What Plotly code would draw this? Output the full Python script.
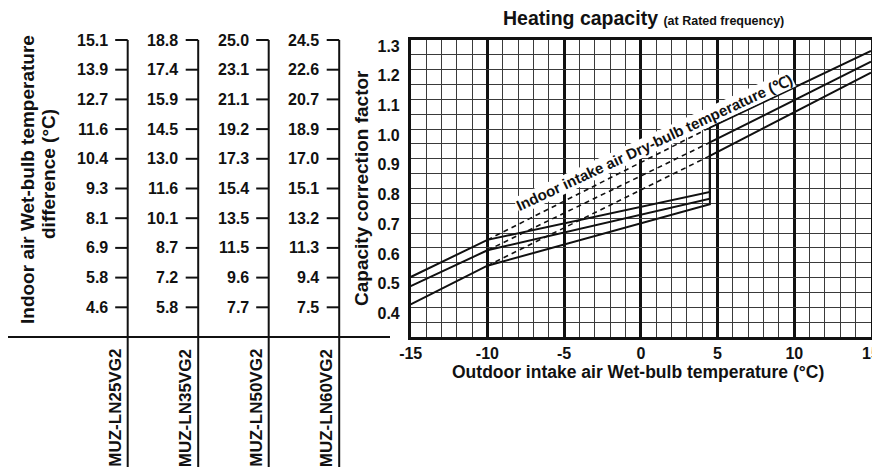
import plotly.graph_objects as go

# ---------------- data ----------------
# Heating capacity correction chart (right)
wb_outdoor = [-15, -10, 4.5, 4.5, 15]          # outdoor intake air wet-bulb (°C) knots
cf_db15 = [0.502, 0.627, 0.788, 1.005, 1.263]  # indoor dry-bulb 15 °C
cf_db20 = [0.471, 0.592, 0.766, 0.955, 1.227]  # indoor dry-bulb 20 °C
cf_db25 = [0.410, 0.540, 0.747, 0.910, 1.190]  # indoor dry-bulb 25 °C
db_labels = ["15", "20", "25"]
x_ticks = [-15, -10, -5, 0, 5, 10, 15]

# Nomogram (left): rows align with correction factor values
cf_rows = [1.3, 1.2, 1.1, 1.0, 0.9, 0.8, 0.7, 0.6, 0.5, 0.4]
models = ["MUZ-LN25VG2", "MUZ-LN35VG2", "MUZ-LN50VG2", "MUZ-LN60VG2"]
wbdiff_ln25 = [15.1, 13.9, 12.7, 11.6, 10.4, 9.3, 8.1, 6.9, 5.8, 4.6]
wbdiff_ln35 = [18.8, 17.4, 15.9, 14.5, 13.0, 11.6, 10.1, 8.7, 7.2, 5.8]
wbdiff_ln50 = [25.0, 23.1, 21.1, 19.2, 17.3, 15.4, 13.5, 11.5, 9.6, 7.7]
wbdiff_ln60 = [24.5, 22.6, 20.7, 18.9, 17.0, 15.1, 13.2, 11.3, 9.4, 7.5]

# ---------------- geometry (window pixels) ----------------
WIN_W, WIN_H = 880, 467
OFF = 8                      # default page body margin
W, H = WIN_W - OFF, WIN_H - OFF
PL, PR, PT, PB = 410.7, 871.0, 40.0, 337.0
X_RANGE = [-15, 15]
Y_RANGE = [0.3, 1.3]
COL0, COL_STEP = 127.7, 70.5


def fx(px):
    return (px - OFF) / W


def fy(py):
    return 1 - (py - OFF) / H


k = (Y_RANGE[1] - Y_RANGE[0]) / (PB - PT)
y2_range = [Y_RANGE[0] - (WIN_H - PB) * k, Y_RANGE[1] + (PT - OFF) * k]
x2_range = [-(COL0 - OFF) / COL_STEP, (WIN_W - COL0) / COL_STEP]


def y2_at(py):
    return Y_RANGE[1] + (PT - py) * k


def x2_at(px):
    return (px - COL0) / COL_STEP


FONT = "Liberation Sans, Arial, Helvetica, sans-serif"
BLACK = "#111111"
GRID = "#3a3a3a"

fig = go.Figure()

# ---------------- correction curves ----------------
for cf in (cf_db15, cf_db20, cf_db25):
    fig.add_trace(go.Scatter(x=wb_outdoor, y=cf, mode="lines",
                             line=dict(color=BLACK, width=2),
                             hoverinfo="skip", showlegend=False))
    fig.add_trace(go.Scatter(x=[wb_outdoor[1], wb_outdoor[2]], y=[cf[1], cf[3]],
                             mode="lines",
                             line=dict(color=BLACK, width=1.6, dash="5px,4px"),
                             hoverinfo="skip", showlegend=False))

annotations = []

# labels at right end of curves (cut by figure edge)
for lab, cf in zip(db_labels, (cf_db15, cf_db20, cf_db25)):
    annotations.append(dict(x=wb_outdoor[-1], y=cf[-1], xref="x", yref="y",
                            text="<b>%s</b>" % lab, showarrow=False,
                            xanchor="left", yanchor="middle", xshift=2, yshift=10,
                            borderpad=0,
                            font=dict(size=11.5, color=BLACK, family=FONT)))

# rotated label along dashed lines
annotations.append(dict(x=0.86, y=0.955, xref="x", yref="y",
                        text="<b>Indoor intake air Dry-bulb temperature (℃)</b>",
                        showarrow=False, textangle=-25, bgcolor="white", borderpad=0,
                        font=dict(size=15, color=BLACK, family=FONT)))

# ---------------- nomogram ----------------
cols = [wbdiff_ln25, wbdiff_ln35, wbdiff_ln50, wbdiff_ln60]
tick_len = 12.5 / COL_STEP
for i, (vals, model) in enumerate(zip(cols, models)):
    xs, ys = [], []
    for r in cf_rows:
        xs += [i - tick_len, i, None]
        ys += [r, r, None]
    xs += [i, i]
    ys += [cf_rows[0], y2_range[0]]
    fig.add_trace(go.Scatter(x=xs, y=ys, xaxis="x2", yaxis="y2", mode="lines",
                             line=dict(color=BLACK, width=2),
                             hoverinfo="skip", showlegend=False))
    for r, v in zip(cf_rows, vals):
        annotations.append(dict(x=i - 18 / COL_STEP, y=r, xref="x2", yref="y2",
                                text="<b>%.1f</b>" % v, showarrow=False,
                                xanchor="right", yanchor="middle",
                                font=dict(size=16, color=BLACK, family=FONT)))
    annotations.append(dict(x=i - 13 / COL_STEP, y=y2_at(347), xref="x2", yref="y2",
                            text="<b>%s</b>" % model, showarrow=False, textangle=-90,
                            xanchor="center", yanchor="top",
                            font=dict(size=17, color=BLACK, family=FONT)))

# separator line
fig.add_trace(go.Scatter(x=[x2_at(5), x2_at(390)], y=[Y_RANGE[0], Y_RANGE[0]],
                         xaxis="x2", yaxis="y2", mode="lines",
                         line=dict(color=BLACK, width=2),
                         hoverinfo="skip", showlegend=False))

# ---------------- titles ----------------
annotations.append(dict(x=fx(643.4), y=fy(18), xref="paper", yref="paper",
                        text="<b>Heating capacity</b> <b><span style='font-size:12.5px'>(at Rated frequency)</span></b>",
                        showarrow=False, xanchor="center", yanchor="middle",
                        font=dict(size=19.5, color=BLACK, family=FONT)))
annotations.append(dict(x=fx(638.4), y=fy(372), xref="paper", yref="paper",
                        text="<b>Outdoor intake air Wet-bulb temperature (°C)</b>",
                        showarrow=False, xanchor="center", yanchor="middle",
                        font=dict(size=17.5, color=BLACK, family=FONT)))
annotations.append(dict(x=fx(362), y=fy(188), xref="paper", yref="paper",
                        text="<b>Capacity correction factor</b>", textangle=-90,
                        showarrow=False, xanchor="center", yanchor="middle",
                        font=dict(size=19, color=BLACK, family=FONT)))
annotations.append(dict(x=fx(28), y=fy(180), xref="paper", yref="paper",
                        text="<b>Indoor air Wet-bulb temperature</b>", textangle=-90,
                        showarrow=False, xanchor="center", yanchor="middle",
                        font=dict(size=19, color=BLACK, family=FONT)))
annotations.append(dict(x=fx(48), y=fy(174), xref="paper", yref="paper",
                        text="<b>difference (°C)</b>", textangle=-90,
                        showarrow=False, xanchor="center", yanchor="middle",
                        font=dict(size=19, color=BLACK, family=FONT)))

fig.update_layout(
    template="none",
    width=W, height=H,
    margin=dict(l=0, r=0, t=0, b=0, pad=0, autoexpand=False),
    paper_bgcolor="white", plot_bgcolor="rgba(0,0,0,0)",
    showlegend=False,
    font=dict(family=FONT, color=BLACK),
    xaxis=dict(domain=[fx(PL), fx(PR)], range=X_RANGE, automargin=False,
               tickvals=x_ticks, ticktext=["<b>%d</b>" % v for v in x_ticks],
               tickfont=dict(size=16, color=BLACK, family=FONT),
               ticks="", ticklabelstandoff=0,
               showgrid=True, gridcolor=BLACK, gridwidth=3,
               minor=dict(dtick=1, tick0=0, showgrid=True, gridcolor=GRID, gridwidth=1),
               showline=True, linecolor=BLACK, linewidth=2.5, mirror=True,
               zeroline=False, fixedrange=True),
    yaxis=dict(domain=[fy(PB), fy(PT)], range=Y_RANGE, automargin=False,
               tickvals=cf_rows, ticktext=["<b>%.1f</b>" % v for v in cf_rows],
               tickfont=dict(size=16, color=BLACK, family=FONT),
               ticks="", ticklabelstandoff=5, ticklabelshift=6,
               showgrid=True, gridcolor=GRID, gridwidth=1,
               minor=dict(dtick=0.05, tick0=0, showgrid=True, gridcolor=GRID, gridwidth=1),
               showline=True, linecolor=BLACK, linewidth=2.5, mirror=True,
               zeroline=False, fixedrange=True),
    xaxis2=dict(domain=[0, 1], range=x2_range, anchor="y2", visible=False,
                automargin=False, fixedrange=True),
    yaxis2=dict(domain=[0, 1], range=y2_range, anchor="x2", visible=False,
                automargin=False, fixedrange=True),
    annotations=annotations,
)

fig.write_html("out.html")
